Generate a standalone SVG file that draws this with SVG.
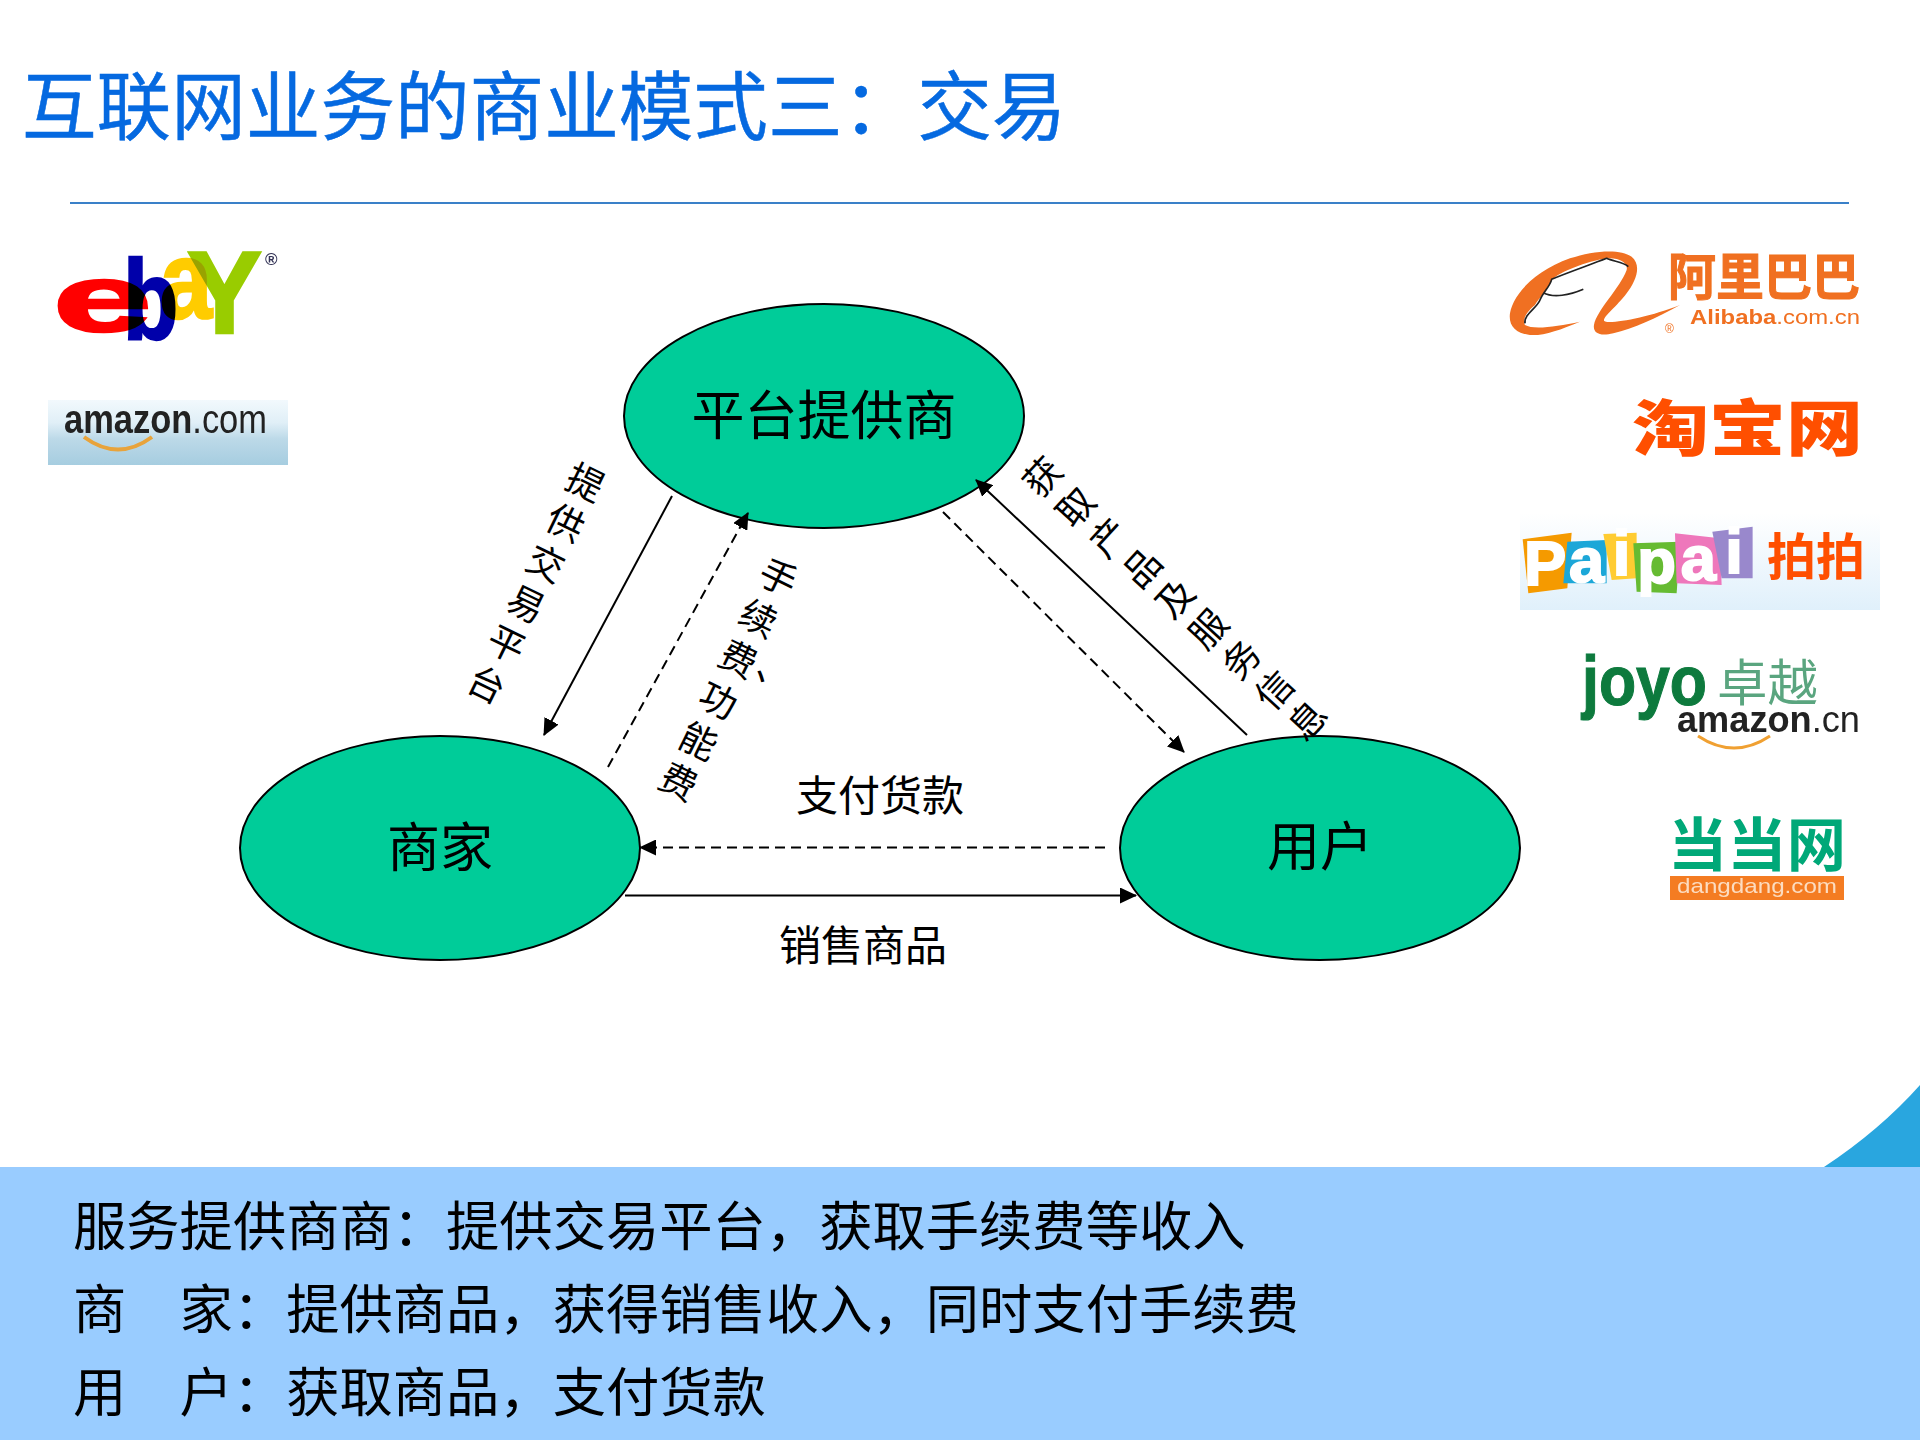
<svg xmlns="http://www.w3.org/2000/svg" width="1920" height="1440" viewBox="0 0 1920 1440">
<style>
text{font-family:"Noto Sans CJK SC","Noto Sans CJK JP",sans-serif;}
.title{font-size:74.6px;fill:#0569e0;stroke:#0569e0;stroke-width:.5;}
.node{fill:#00cc99;stroke:#000;stroke-width:2;}
.ntext{font-size:53px;fill:#000;text-anchor:middle;}
.lbl{font-size:42px;fill:#000;text-anchor:middle;}
.rot{font-size:37px;fill:#000;text-anchor:middle;}
.band{font-size:53.3px;fill:#000;}
.s{stroke:#000;stroke-width:2;fill:none;marker-end:url(#arrow);}
.d{stroke:#000;stroke-width:2;fill:none;stroke-dasharray:10 6;marker-end:url(#arrow);}
.lat{font-family:"Liberation Sans",Arial,sans-serif;}
.b{font-weight:700;}
.eb{mix-blend-mode:multiply;stroke-width:2.5;}
</style>
<defs>
<marker id="arrow" markerUnits="userSpaceOnUse" markerWidth="18" markerHeight="16" refX="16" refY="8" orient="auto"><path d="M0 0L17 8L0 16Z" fill="#000"/></marker>
<linearGradient id="gAm" x1="0" y1="0" x2="0" y2="1"><stop offset="0" stop-color="#f2f9fd"/><stop offset=".35" stop-color="#e0eff7"/><stop offset=".6" stop-color="#bcd9e8"/><stop offset="1" stop-color="#a6cde0"/></linearGradient>
<linearGradient id="gPai" x1="0" y1="0" x2="0" y2="1"><stop offset="0" stop-color="#fff"/><stop offset="1" stop-color="#e0f0fb"/></linearGradient>
<filter id="soft" x="-5%" y="-5%" width="110%" height="110%"><feGaussianBlur stdDeviation="0.7"/></filter>
</defs>
<rect width="1920" height="1440" fill="#fff"/>
<path d="M1824 1167Q1880 1130 1920 1085L1920 1167Z" fill="#29a6df"/>
<rect y="1167" width="1920" height="273" fill="#99ccff"/>
<text class="title" x="22" y="134">互联网业务的商业模式三&#xFF1A;交易</text>
<line x1="70" y1="203" x2="1849" y2="203" stroke="#3a80c8" stroke-width="2"/>
<g id="logo-ebay" filter="url(#soft)" style="isolation:isolate">
<text class="lat b eb" fill="#f00" stroke="#f00" font-size="95" transform="translate(53 331) scale(1.87 1)">e</text>
<text class="lat b eb" fill="#00a" stroke="#00a" font-size="113" transform="translate(123 339) scale(.8 1)">b</text>
<text class="lat b eb" fill="#fc0" stroke="#fc0" font-size="109" transform="translate(160 318) scale(.86 1)">a</text>
<text class="lat b eb" fill="#9c0" stroke="#9c0" font-size="117" transform="translate(187 333) scale(.96 1)">Y</text>
<text class="lat b" fill="#335" font-size="17" x="265" y="265">®</text>
</g>
<g id="logo-amazon">
<rect x="48" y="400" width="240" height="65" fill="url(#gAm)"/>
<g filter="url(#soft)">
<text class="lat" font-size="40" y="433" x="64" fill="#222" textLength="203" lengthAdjust="spacingAndGlyphs"><tspan class="b">amazon</tspan>.com</text>
<path d="M84 437Q118 462 152 437" stroke="#e8a33a" stroke-width="4" fill="none"/>
</g>
</g>
<g id="logo-alibaba" filter="url(#soft)">
<g transform="translate(1480 230) scale(.3333)">
<path d="M300 275C240 300 190 318 150 315C105 310 85 285 90 250C100 190 170 120 270 85C340 62 420 55 455 80C485 105 470 150 440 190C410 230 370 260 372 272C380 285 500 265 600 225C530 265 460 295 400 310C360 320 338 310 342 285C350 240 420 175 440 120C445 100 420 82 380 85C320 95 240 125 215 150C205 180 175 205 165 225C140 245 125 270 135 285C160 300 230 290 300 275Z" fill="#f07020"/>
<path d="M135 280C130 255 170 235 180 210C190 185 210 170 215 148C270 125 330 105 380 85C400 95 430 95 445 110M190 188C220 205 270 195 310 178" stroke="#222" stroke-width="5" fill="none"/>
</g>
<text font-size="50" font-weight="700" fill="#f07020" stroke="#f07020" stroke-width="1" x="1668" y="295" textLength="192" lengthAdjust="spacingAndGlyphs">阿里巴巴</text>
<text class="lat" font-size="21" fill="#f07020" x="1690" y="324" textLength="170" lengthAdjust="spacingAndGlyphs"><tspan class="b">Alibaba</tspan>.com.cn</text>
<text class="lat" font-size="12" fill="#f07020" x="1665" y="333">®</text>
</g>
<g id="logo-taobao" filter="url(#soft)">
<text font-size="78" font-weight="900" fill="#ff5000" transform="translate(1632 451) scale(1 .78)" textLength="231" lengthAdjust="spacingAndGlyphs">淘宝网</text>
</g>
<g id="logo-paipai">
<rect x="1520" y="513" width="360" height="97" fill="url(#gPai)"/>
<g filter="url(#soft)">
<g transform="translate(1480 230) scale(.3333)">
<polygon points="128,928 275,908 262,1075 145,1090" fill="#f59a00"/>
<polygon points="262,935 380,930 380,1060 250,1060" fill="#1ca7d8"/>
<polygon points="370,912 470,908 470,1045 395,1050" fill="#ffcc33"/>
<polygon points="460,940 600,935 590,1090 470,1085" fill="#66bb33"/>
<polygon points="585,910 720,925 725,1065 590,1060" fill="#ee77bb"/>
<polygon points="697,905 818,890 818,1045 725,1045" fill="#9988cc"/>
<text class="lat b" font-size="190" fill="#fff" stroke="#fff" stroke-width="6" text-anchor="middle"><tspan x="195" y="1065">P</tspan><tspan x="320" y="1055">a</tspan><tspan x="425" y="1035">i</tspan><tspan x="530" y="1060">p</tspan><tspan x="655" y="1050">a</tspan><tspan x="762" y="1030">i</tspan></text>
</g>
<text font-size="50" font-weight="700" fill="#ff5000" x="1767" y="575" textLength="98" lengthAdjust="spacingAndGlyphs">拍拍</text>
</g>
</g>
<g id="logo-joyo" filter="url(#soft)">
<text class="lat b" font-size="62" fill="#0b7a3e" stroke="#0b7a3e" stroke-width="1" transform="translate(1582 705) scale(1 1.15)" textLength="125" lengthAdjust="spacingAndGlyphs">joyo</text>
<text font-size="50" fill="#5aa57f" x="1717" y="701" textLength="101" lengthAdjust="spacingAndGlyphs">卓越</text>
<text class="lat" font-size="36" fill="#222" x="1677" y="732" textLength="183" lengthAdjust="spacingAndGlyphs"><tspan class="b">amazon</tspan>.cn</text>
<path d="M1698 736Q1734 760 1770 736" stroke="#f0a030" stroke-width="3" fill="none"/>
</g>
<g id="logo-dangdang" filter="url(#soft)">
<text font-size="58" font-weight="700" fill="#00a878" x="1668" y="866" textLength="178" lengthAdjust="spacingAndGlyphs">当当网</text>
<rect x="1670" y="876" width="174" height="24" fill="#f47c20"/>
<text class="lat" font-size="21" fill="#fcdcc0" x="1677" y="893" textLength="160" lengthAdjust="spacingAndGlyphs">dangdang.com</text>
</g>
<g id="node-platform"><ellipse class="node" cx="824" cy="416" rx="200" ry="112"/><text class="ntext" x="824" y="435">平台提供商</text></g>
<g id="node-merchant"><ellipse class="node" cx="440" cy="848" rx="200" ry="112"/><text class="ntext" x="440" y="867">商家</text></g>
<g id="node-user"><ellipse class="node" cx="1320" cy="848" rx="200" ry="112"/><text class="ntext" x="1320" y="866">用户</text></g>
<g id="connectors">
<line class="s" x1="672" y1="496" x2="544" y2="735"/>
<line class="d" x1="608" y1="767" x2="748" y2="513"/>
<line class="s" x1="1247" y1="735" x2="976" y2="480"/>
<line class="d" x1="943" y1="512" x2="1184" y2="752"/>
<line class="d" x1="1105" y1="847.5" x2="640" y2="847.5"/>
<line class="s" x1="625" y1="895.5" x2="1136" y2="895.5"/>
<text class="lbl" x="880" y="811">支付货款</text>
<text class="lbl" x="863" y="961">销售商品</text>
<g transform="translate(585 483) rotate(26)"><text class="rot" x="0 0 0 0 0 0" y="13 58 103 148 193 238">提供交易平台</text></g>
<g transform="translate(778 578) rotate(26)"><text class="rot" x="0 0 0 39 0 0 0" y="13 58.5 104 99 149.5 195 240.5">手续费、功能费</text></g>
<g transform="translate(1043 477) rotate(-47.4)"><text class="rot" x="0 0 0 0 0 0 0 0 0" y="13 58 103 148 193 238 283 328 373">获取产品及服务信息</text></g>
</g>
<g id="summary">
<text class="band" x="73" y="1246">服务提供商商&#xFF1A;提供交易平台&#xFF0C;获取手续费等收入</text>
<text class="band" x="73" y="1329">商　家&#xFF1A;提供商品&#xFF0C;获得销售收入&#xFF0C;同时支付手续费</text>
<text class="band" x="73" y="1412">用　户&#xFF1A;获取商品&#xFF0C;支付货款</text>
</g>
</svg>
